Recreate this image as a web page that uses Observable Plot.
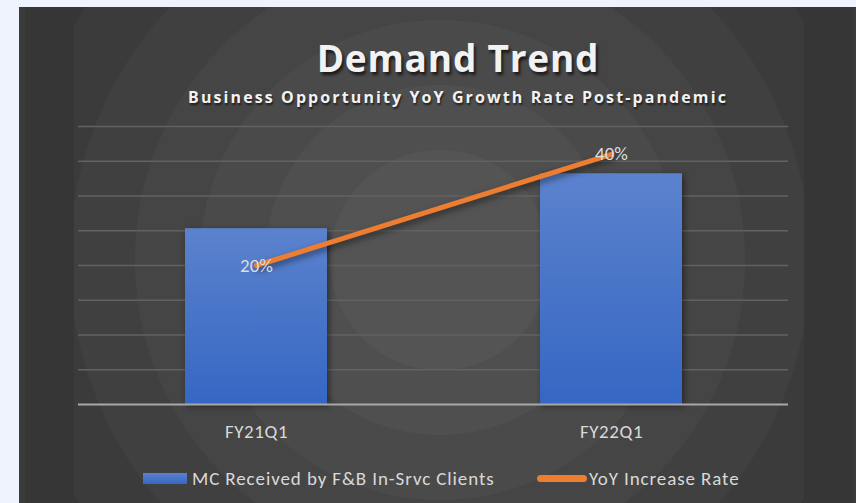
<!DOCTYPE html>
<html>
<head>
<meta charset="utf-8">
<script src="https://cdn.jsdelivr.net/npm/d3@7"></script>
<script src="https://cdn.jsdelivr.net/npm/@observablehq/plot@0.6"></script>
<style>
  html, body { margin: 0; padding: 0; }
  body { width: 856px; height: 503px; overflow: hidden; position: relative; background: #eef3fd; }
  .abs { position: absolute; }
  #panel { left: 19px; top: 7px; width: 837px; height: 496px; background: #3b3b3b; }
  #panelInner { left: 25px; top: 7px; width: 828px; height: 496px; background: #363636; }
  #area { left: 74px; top: 7px; width: 730px; height: 496px;
    background: radial-gradient(circle at 366px 253px,
      #545454 0 110px, #4f4f4f 110px 175px, #4a4a4a 175px 240px, #454545 240px 305px,
      #404040 305px 370px, #3b3b3b 370px 435px, #363636 435px 500px, #313131 500px 565px, #2d2d2d 565px); }
  #title { left: 0; width: 916px; top: 39px; text-align: center; font: bold 37px/37px "Open Sans", sans-serif;
    letter-spacing: 0.8px; color: #f2f2f2; text-shadow: 2px 3px 3px rgba(0,0,0,0.65); }
  #subtitle { left: 0; width: 916px; top: 89px; text-align: center; font: bold 16px/16px "Open Sans", sans-serif;
    letter-spacing: 2.1px; color: #f2f2f2; text-shadow: 1px 2px 2px rgba(0,0,0,0.6); }
  #chart { left: 0; top: 0; }
  .leg { top: 468px; height: 22px; line-height: 22px; font-size: 19px; letter-spacing: 0.9px; color: #d9d9d9;
    font-family: Carlito, "Liberation Sans", Arial, sans-serif; white-space: nowrap; }
  .sw { position: absolute; }
</style>
</head>
<body>
<div id="panel" class="abs"></div>
<div id="panelInner" class="abs"></div>
<div id="area" class="abs"></div>
<div id="chart" class="abs"></div>
<div id="title" class="abs">Demand Trend</div>
<div id="subtitle" class="abs">Business Opportunity YoY Growth Rate Post-pandemic</div>
<div id="legend"></div>
<script>
// ---- data ----
const categories = ["FY21Q1", "FY22Q1"];
const mcValues = [50.6, 66.4];          // primary axis (unlabelled), gridlines every 10
const yoyRates = [0.20, 0.40];          // secondary axis
const yoyLabels = ["20%", "40%"];
const seriesNames = ["MC Received by F&B In-Srvc Clients", "YoY Increase Rate"];
const gridTicks = [10, 20, 30, 40, 50, 60, 70, 80];
const secondaryDomain = [-0.05, 0.45];
const primaryDomain = [0, 80];

// secondary axis mapped onto the primary one
const y2 = d3.scaleLinear(secondaryDomain, primaryDomain);
const rows = categories.map((c, i) => ({
  cat: c, mc: mcValues[i], rate: yoyRates[i], rateY: y2(yoyRates[i]), label: yoyLabels[i]
}));

const FONT = 'Carlito, "Liberation Sans", Arial, sans-serif';

const svg = Plot.plot({
  width: 856,
  height: 503,
  marginTop: 126,
  marginBottom: 99,
  marginLeft: 78,
  marginRight: 68,
  style: { background: "transparent", fontFamily: FONT, overflow: "visible" },
  x: { domain: categories, paddingInner: 0.6, paddingOuter: 0.3, label: null },
  y: { domain: primaryDomain, axis: null },
  marks: [
    Plot.ruleY(gridTicks, { stroke: "#626262", strokeWidth: 1.3 }),
    Plot.barY(rows, { x: "cat", y: "mc", fill: "url(#barGrad)" }),
    Plot.ruleY([0], { stroke: "#a8a8a8", strokeWidth: 2.2 }),
    Plot.line(rows, { x: "cat", y: "rateY", stroke: "#ed7d31", strokeWidth: 5, strokeLinecap: "round" }),
    Plot.text(rows, { x: "cat", y: "rateY", text: "label", fill: "#dcdcdc", fontSize: 19 }),
    Plot.axisX({ tickSize: 0, tickPadding: 20, fontSize: 19, label: null, fill: "#d9d9d9" })
  ]
});

const s = d3.select(svg);
const defs = s.insert("defs", ":first-child");
const g = defs.append("linearGradient").attr("id", "barGrad")
  .attr("x1", 0).attr("y1", 0).attr("x2", 0).attr("y2", 1);
g.append("stop").attr("offset", "0%").attr("stop-color", "#5b82cd");
g.append("stop").attr("offset", "100%").attr("stop-color", "#3567c3");
s.selectAll('g[aria-label="bar"]').style("filter", "drop-shadow(2px 2px 3px rgba(0,0,0,0.45))");
s.selectAll('g[aria-label="line"]').style("filter", "drop-shadow(2px 3px 3px rgba(0,0,0,0.5))");
s.selectAll('g[aria-label="x-axis tick label"]').style("letter-spacing", "0.6px");
document.getElementById("chart").appendChild(svg);

// ---- legend (HTML) ----
const legend = document.getElementById("legend");
const items = [
  { name: seriesNames[0], swLeft: 143, swTop: 473, swW: 44, swH: 11, bg: "linear-gradient(#5b82cd,#3567c3)", r: 0, textLeft: 192 },
  { name: seriesNames[1], swLeft: 537, swTop: 475, swW: 50, swH: 7, bg: "#ed7d31", r: 4, textLeft: 589 }
];
items.forEach(it => {
  const sw = document.createElement("div");
  sw.className = "sw";
  Object.assign(sw.style, { left: it.swLeft + "px", top: it.swTop + "px", width: it.swW + "px",
    height: it.swH + "px", background: it.bg, borderRadius: it.r + "px" });
  legend.appendChild(sw);
  const t = document.createElement("div");
  t.className = "abs leg";
  t.style.left = it.textLeft + "px";
  t.textContent = it.name;
  legend.appendChild(t);
});
</script>
</body>
</html>
